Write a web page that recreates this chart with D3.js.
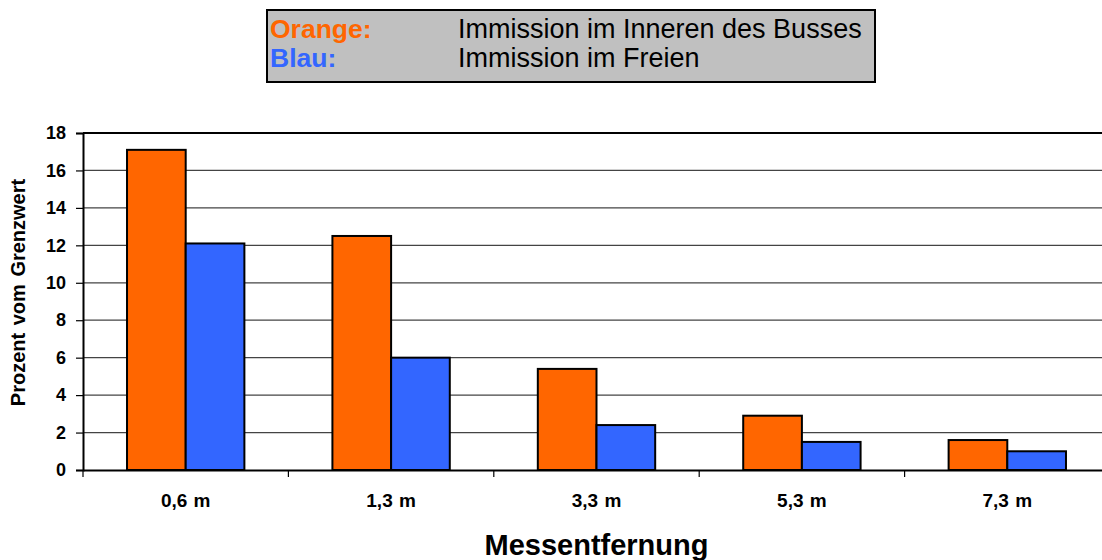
<!DOCTYPE html>
<html>
<head>
<meta charset="utf-8">
<script src="https://cdn.jsdelivr.net/npm/d3@7"></script>
<style>
  body { margin: 0; background: #fff; }
  svg { display: block; font-family: 'Liberation Sans', Arial, sans-serif; }
</style>
</head>
<body>
<svg id="chart" width="1102" height="560"></svg>
<script>
const categories = ['0,6 m', '1,3 m', '3,3 m', '5,3 m', '7,3 m'];
const innen = [17.1, 12.5, 5.4, 2.9, 1.6];
const freien = [12.1, 6.0, 2.4, 1.5, 1.0];
const yTicks = [0, 2, 4, 6, 8, 10, 12, 14, 16, 18];
const seriesNames = ['Immission im Inneren des Busses', 'Immission im Freien'];
const seriesLabels = ['Orange:', 'Blau:'];
const colors = ['#FF6600', '#3366FF'];

const svg = d3.select('#chart');
const plot = { left: 83, right: 1110, top: 133, bottom: 470 };
const font = 'Liberation Sans, Arial, sans-serif';

const x = d3.scaleBand()
  .domain(categories)
  .range([plot.left, plot.right]);

const xInner = d3.scaleBand()
  .domain([0, 1])
  .range([0, x.bandwidth()])
  .paddingOuter(0.75);

const y = d3.scaleLinear()
  .domain([0, 18])
  .range([plot.bottom, plot.top]);

// gridlines
svg.append('g')
  .selectAll('line')
  .data(yTicks.filter((t) => t > 0))
  .enter()
  .append('line')
  .attr('x1', plot.left)
  .attr('x2', plot.right)
  .attr('y1', (d) => y(d))
  .attr('y2', (d) => y(d))
  .attr('stroke', (d) => (d === 18 ? '#000' : '#444'))
  .attr('stroke-width', (d) => (d === 18 ? 2 : 1.2));

// bars
const data = categories.map((c, i) => ({ cat: c, vals: [innen[i], freien[i]] }));
svg.append('g')
  .selectAll('g')
  .data(data)
  .enter()
  .append('g')
  .attr('transform', (d) => `translate(${x(d.cat)},0)`)
  .selectAll('rect')
  .data((d) => d.vals.map((v, k) => ({ v, k })))
  .enter()
  .append('rect')
  .attr('x', (d) => xInner(d.k))
  .attr('y', (d) => y(d.v))
  .attr('width', xInner.bandwidth())
  .attr('height', (d) => y(0) - y(d.v))
  .attr('fill', (d) => colors[d.k])
  .attr('stroke', '#000')
  .attr('stroke-width', 2);

// y axis
const yAxis = svg.append('g')
  .attr('transform', `translate(${plot.left},0)`)
  .call(d3.axisLeft(y).tickValues(yTicks).tickSize(7).tickPadding(10));
yAxis.select('.domain').attr('stroke', '#000').attr('stroke-width', 2);
yAxis.selectAll('.tick line').attr('stroke', '#000').attr('stroke-width', 1.2);
yAxis.selectAll('.tick text')
  .style('font-size', '18px')
  .style('font-weight', 'bold')
  .style('font-family', font)
  .attr('fill', '#000');

// x axis
const xAxis = svg.append('g')
  .attr('transform', `translate(0,${plot.bottom})`)
  .call(d3.axisBottom(x).tickSize(0).tickPadding(24));
xAxis.select('.domain').attr('stroke', '#000').attr('stroke-width', 2);
xAxis.selectAll('.tick text')
  .style('font-size', '19px')
  .style('font-weight', 'bold')
  .style('font-family', font)
  .style('word-spacing', '1px')
  .attr('fill', '#000');

// category separators
svg.append('g')
  .selectAll('line')
  .data(categories)
  .enter()
  .append('line')
  .attr('x1', (d) => x(d))
  .attr('x2', (d) => x(d))
  .attr('y1', plot.bottom)
  .attr('y2', plot.bottom + 7)
  .attr('stroke', '#000')
  .attr('stroke-width', 1.2);

// axis titles
svg.append('text')
  .attr('transform', `translate(25,${(plot.top + plot.bottom) / 2 - 9}) rotate(-90)`)
  .attr('text-anchor', 'middle')
  .style('font-size', '20px')
  .style('font-weight', 'bold')
  .style('word-spacing', '2px')
  .text('Prozent vom Grenzwert');

svg.append('text')
  .attr('x', (plot.left + plot.right) / 2)
  .attr('y', 555)
  .attr('text-anchor', 'middle')
  .style('font-size', '29px')
  .style('font-weight', 'bold')
  .text('Messentfernung');

// legend box
const legend = svg.append('g');
legend.append('rect')
  .attr('x', 267)
  .attr('y', 10)
  .attr('width', 608)
  .attr('height', 72)
  .attr('fill', '#C0C0C0')
  .attr('stroke', '#000')
  .attr('stroke-width', 2);

const rows = legend.selectAll('g')
  .data(seriesNames)
  .enter()
  .append('g')
  .attr('transform', (d, i) => `translate(0,${38 + i * 29})`);
rows.append('text')
  .attr('x', 270)
  .style('font-size', '26.5px')
  .style('font-weight', 'bold')
  .attr('fill', (d, i) => colors[i])
  .text((d, i) => seriesLabels[i]);
rows.append('text')
  .attr('x', 458)
  .style('font-size', '27px')
  .attr('fill', '#000')
  .text((d) => d);
</script>
</body>
</html>
